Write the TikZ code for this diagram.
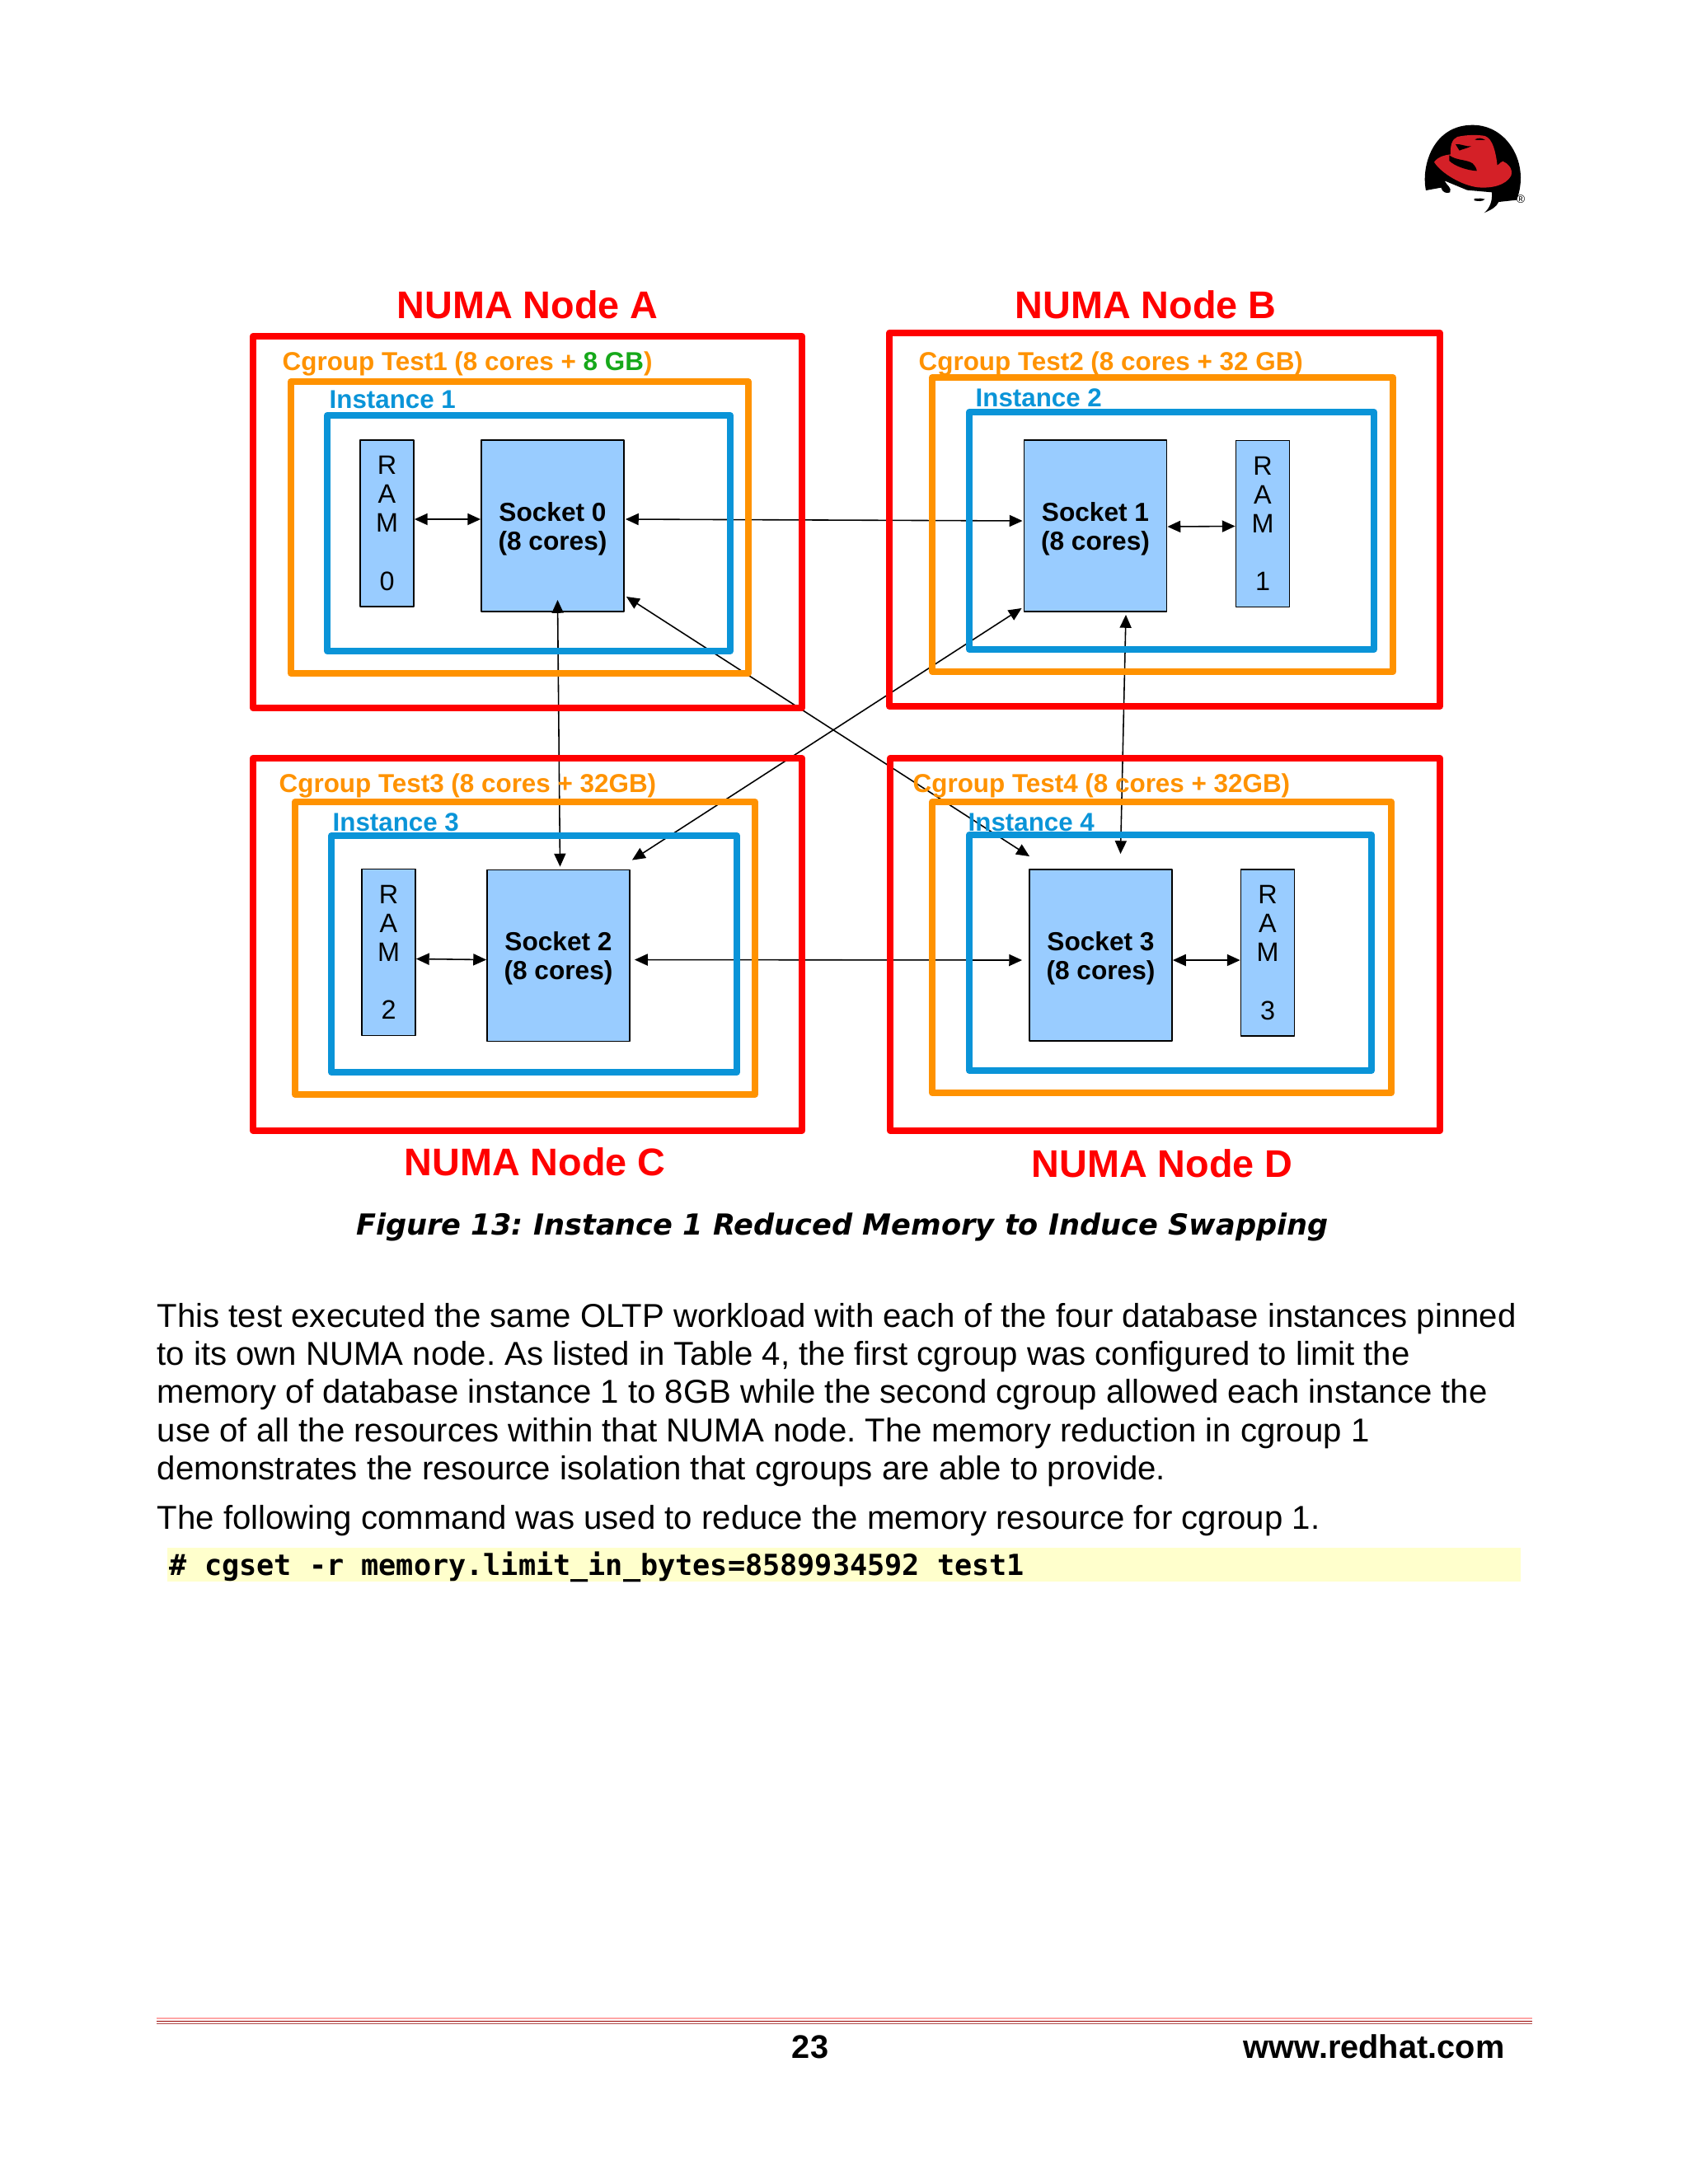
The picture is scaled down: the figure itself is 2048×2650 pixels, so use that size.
\documentclass[tikz,border=0pt]{standalone}
\usepackage{fontspec}
\usetikzlibrary{arrows.meta}
\setmainfont{Liberation Sans}
\setmonofont{DejaVu Sans Mono}
\newfontfamily\captionfont{DejaVu Sans}
\frenchspacing
\definecolor{numared}{HTML}{FF0000}
\definecolor{cgorange}{HTML}{FF9200}
\definecolor{instblue}{HTML}{0A94D8}
\definecolor{boxfill}{HTML}{99CCFF}
\definecolor{gbgreen}{HTML}{16A81A}
\definecolor{hatred}{HTML}{D42027}
\definecolor{codebg}{HTML}{FFFFCC}
\newcommand{\socklabel}[1]{\rule{0pt}{8.5pt}Socket #1\\(8 cores)}
\tikzset{
	socketbox/.style={draw=black, fill=boxfill, line width=0.5pt, minimum width=1.73cm, minimum height=2.08cm, inner sep=0pt, align=center, font=\fontsize{9}{10}\selectfont\bfseries},
	rambox/.style={draw=black, fill=boxfill, line width=0.5pt, minimum width=0.65cm, minimum height=2.02cm, inner sep=0pt, align=center, font=\fontsize{9.2}{10}\selectfont},
	link/.style={{Stealth[length=4.5pt,width=4pt,inset=0pt]}-{Stealth[length=4.5pt,width=4pt,inset=0pt]}, line width=0.45pt, black},
	numatitle/.style={text=numared, inner sep=0pt, font=\fontsize{13.3}{15}\selectfont\bfseries},
	cglabel/.style={text=cgorange, anchor=west, inner sep=0pt, font=\fontsize{8.93}{10}\selectfont\bfseries},
	instlabel/.style={text=instblue, anchor=west, inner sep=0pt, font=\fontsize{8.9}{10}\selectfont\bfseries},
	bodyline/.style={anchor=base west, inner sep=0pt, font=\fontsize{11.42}{13}\selectfont}
}
\begin{document}
\begin{tikzpicture}[x=0.01cm, y=-0.01cm, line join=round]
	\useasboundingbox (0,0) rectangle (2048,2650);
	
	% Logo
	\begin{scope}[shift={(1680,130)}, scale=1/3]
		\fill[black] (150,303) .. controls (132,215) and (175,65) .. (320,65) .. controls (450,65) and (530,210) .. (480,338) -- (415,345) .. controls (405,365) and (390,372) .. (362,385) .. controls (385,365) and (392,340) .. (390,310) -- (300,302) -- (218,268) .. controls (225,285) and (245,292) .. (238,310) .. controls (225,316) and (210,310) .. (205,293) -- cycle;
		\fill[hatred] (180,200) .. controls (195,180) and (215,175) .. (240,172) .. controls (238,140) and (245,115) .. (265,108) .. controls (300,100) and (340,100) .. (365,105) .. controls (395,115) and (405,170) .. (410,212) .. controls (420,205) and (425,197) .. (430,197) .. controls (450,205) and (468,225) .. (460,250) .. controls (440,285) and (390,296) .. (340,292) .. controls (280,285) and (205,240) .. (180,200) -- cycle;
		\fill[black] (235,175) .. controls (260,195) and (300,190) .. (320,205) .. controls (330,215) and (335,225) .. (335,232) .. controls (300,230) and (255,215) .. (235,195) -- cycle;
		\fill[black] (258,135) .. controls (275,132) and (295,145) .. (315,142) .. controls (300,150) and (285,152) .. (272,158) -- cycle;
		\fill[black] (328,118) .. controls (340,110) and (355,112) .. (366,120) .. controls (352,118) and (340,122) .. (328,118) -- cycle;
		\fill[black] (326,333) .. controls (335,328) and (340,338) .. (348,332) -- (365,335) .. controls (355,345) and (340,342) .. (326,340) -- cycle;
		\node (regmark) at (495,335) {\fontsize{4}{4}\selectfont ®};
	\end{scope}
	
	% Sockets and RAM
	\node[socketbox] (S0) at (670.5,638) {\socklabel{0}};
	\node[socketbox] (S1) at (1329,638) {\socklabel{1}};
	\node[socketbox] (S2) at (677.5,1159.5) {\socklabel{2}};
	\node[socketbox] (S3) at (1335.5,1159) {\socklabel{3}};
	\node[rambox] (R0) at (469.5,635) {R\\A\\M\\\\0};
	\node[rambox] (R1) at (1532,635.5) {R\\A\\M\\\\1};
	\node[rambox] (R2) at (471.5,1155.5) {R\\A\\M\\\\2};
	\node[rambox] (R3) at (1538,1156) {R\\A\\M\\\\3};
	
	% Links
	\draw[link] ([shift={(0,-5)}]R0.east) -- ([shift={(0,-8)}]S0.west);
	\draw[link] ([shift={(0,1)}]S1.east) -- ([shift={(0,3)}]R1.west);
	\draw[link] ([shift={(0,8)}]R2.east) -- ([shift={(0,5)}]S2.west);
	\draw[link] ([shift={(0,6)}]S3.east) -- ([shift={(0,9)}]R3.west);
	\draw[link] ([shift={(1,-8)}]S0.east) -- ([shift={(-1,-6)}]S1.west);
	\draw[link] ([shift={(5,5)}]S2.east) -- ([shift={(-8,6)}]S3.west);
	\draw[link] ([shift={(6,-15)}]S0.south) -- ([shift={(2,-3)}]S2.north);
	\draw[link] ([shift={(37,3)}]S1.south) -- ([shift={(24,-18)}]S3.north);
	\draw[link] ([shift={(2,-19)}]S0.south east) -- ([shift={(1,-15)}]S3.north west);
	\draw[link] ([shift={(-2,-5)}]S1.south west) -- ([shift={(2,-11)}]S2.north east);
	
	% Frames
	\foreach \xa/\ya/\xb/\yb in {307/408/973/859, 1079/404/1747/857, 307/920/973/1372, 1080/920/1747/1372}
	\draw[numared, line width=2.3pt] (\xa,\ya) rectangle (\xb,\yb);
	\foreach \xa/\ya/\xb/\yb in {353/463/908/817, 1131/458/1690/815, 358/973/916/1328, 1131/973/1688/1326}
	\draw[cgorange, line width=2.3pt] (\xa,\ya) rectangle (\xb,\yb);
	\foreach \xa/\ya/\xb/\yb in {397/504/886/790, 1176/500/1667/788, 402/1014/894/1301, 1176/1013/1664/1299}
	\draw[instblue, line width=2.3pt] (\xa,\ya) rectangle (\xb,\yb);
	
	% Labels
	\node[numatitle] (titleA) at (640,370) {NUMA Node A};
	\node[numatitle] (titleB) at (1390,370) {NUMA Node B};
	\node[numatitle] (titleC) at (649,1410) {NUMA Node C};
	\node[numatitle] (titleD) at (1410,1412) {NUMA Node D};
	\node[cglabel] (cgA) at (342,441) {Cgroup Test1 (8 cores + {\color{gbgreen}8 GB})};
	\node[cglabel] (cgB) at (1114,441) {Cgroup Test2 (8 cores + 32 GB)};
	\node[cglabel] (cgC) at (338,953) {Cgroup Test3 (8 cores + 32GB)};
	\node[cglabel] (cgD) at (1107,953) {Cgroup Test4 (8 cores + 32GB)};
	\node[instlabel] (instA) at (399,485) {Instance 1};
	\node[instlabel] (instB) at (1183,483) {Instance 2};
	\node[instlabel] (instC) at (403,998) {Instance 3};
	\node[instlabel] (instD) at (1174,998) {Instance 4};
	
	% Caption and text
	\node[inner sep=0pt, anchor=base, font=\captionfont\fontsize{10}{12}\selectfont\bfseries\itshape] (caption) at (1022,1498) {Figure 13: Instance 1 Reduced Memory to Induce Swapping};
	\foreach \y/\t in {1610/{This test executed the same OLTP workload with each of the four database instances pinned},
		1656/{to its own NUMA node. As listed in Table 4, the first cgroup was configured to limit the},
		1702/{memory of database instance 1 to 8GB while the second cgroup allowed each instance the},
		1749/{use of all the resources within that NUMA node. The memory reduction in cgroup 1},
		1795/{demonstrates the resource isolation that cgroups are able to provide.},
		1855/{The following command was used to reduce the memory resource for cgroup 1.}}
	\node[bodyline] (line\y) at (190,\y) {\t};
	\fill[codebg] (203,1878) rectangle (1845,1919);
	\node[anchor=base west, inner sep=0pt, font=\ttfamily\fontsize{10}{12}\selectfont\bfseries] (code) at (205,1911) {\# cgset -r memory.limit\_in\_bytes=8589934592 test1};
	
	% Footer
	\draw[color=red!35!white, line width=0.7pt] (190,2449) -- (1859,2449);
	\draw[color=red!60!black, line width=0.3pt] (190,2452.5) -- (1859,2452.5);
	\draw[color=red!40!gray, line width=0.3pt] (190,2455.5) -- (1859,2455.5);
	\node[anchor=base, inner sep=0pt, font=\fontsize{11.3}{13}\selectfont\bfseries] (pagenum) at (983,2497) {23};
	\node[anchor=base east, inner sep=0pt, font=\fontsize{11.3}{13}\selectfont\bfseries] (website) at (1826,2497) {www.redhat.com};
\end{tikzpicture}
\end{document}
